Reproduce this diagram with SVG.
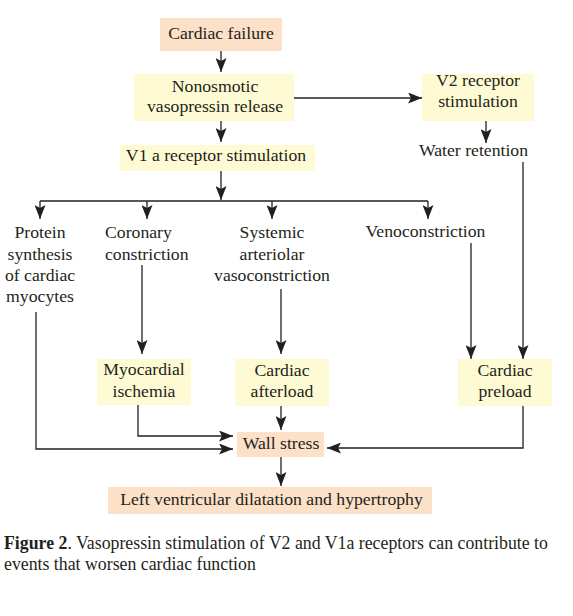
<svg xmlns="http://www.w3.org/2000/svg" width="573" height="616" viewBox="0 0 573 616">
<style>
text{font-family:"Liberation Serif","Times New Roman",serif;font-size:17.7px;fill:#231f20}
.c{text-anchor:middle}
.peach{fill:#fce0c8}
.yel{fill:#fefbd4}
.ln{fill:none;stroke:#231f20;stroke-width:1.3}
.cap{font-size:17.8px}
</style>
<defs>
<marker id="ah" markerUnits="userSpaceOnUse" viewBox="0 0 14 11" markerWidth="14" markerHeight="11" refX="14" refY="5.5" orient="auto">
<path d="M0,0 L14,5.5 L0,11 L3,5.5 z" fill="#231f20"/>
</marker>
</defs>
<rect width="573" height="616" fill="#ffffff"/>
<g id="connectors">
<path class="ln" d="M221,51 V72" marker-end="url(#ah)"/>
<path class="ln" d="M294,98 H422" marker-end="url(#ah)"/>
<path class="ln" d="M486,121 V143" marker-end="url(#ah)"/>
<path class="ln" d="M221,121 V142" marker-end="url(#ah)"/>
<path class="ln" d="M221,171 V200" marker-end="url(#ah)"/>
<path class="ln" d="M40,201 H428"/>
<path class="ln" d="M40,201 V219" marker-end="url(#ah)"/>
<path class="ln" d="M147,201 V219" marker-end="url(#ah)"/>
<path class="ln" d="M272,201 V219" marker-end="url(#ah)"/>
<path class="ln" d="M428,201 V219" marker-end="url(#ah)"/>
<path class="ln" d="M142,265 V354" marker-end="url(#ah)"/>
<path class="ln" d="M281,289 V354" marker-end="url(#ah)"/>
<path class="ln" d="M471,243 V359" marker-end="url(#ah)"/>
<path class="ln" d="M523,162 V359" marker-end="url(#ah)"/>
<path class="ln" d="M138,405 V436 H233" marker-end="url(#ah)"/>
<path class="ln" d="M36,312 V449 H233" marker-end="url(#ah)"/>
<path class="ln" d="M523,406 V448 H327" marker-end="url(#ah)"/>
<path class="ln" d="M281,406 V430" marker-end="url(#ah)"/>
<path class="ln" d="M281,457 V486" marker-end="url(#ah)"/>
</g>
<g id="cardiac-failure">
<rect class="peach" x="160" y="18" width="122" height="33"/>
<text class="c" x="221" y="39">Cardiac failure</text>
</g>
<g id="nonosmotic">
<rect class="yel" x="134" y="74" width="160" height="47"/>
<text class="c" x="215" y="92">Nonosmotic</text>
<text class="c" x="215" y="112">vasopressin release</text>
</g>
<g id="v2">
<rect class="yel" x="422" y="74" width="112" height="47"/>
<text class="c" x="478" y="86">V2 receptor</text>
<text class="c" x="478" y="107">stimulation</text>
</g>
<g id="water">
<text class="c" x="473.5" y="156">Water retention</text>
</g>
<g id="v1">
<rect class="yel" x="120" y="145" width="195" height="26"/>
<text class="c" x="216" y="161">V1 a receptor stimulation</text>
</g>
<g id="protein">
<text class="c" x="40" y="238">Protein</text>
<text class="c" x="40" y="260">synthesis</text>
<text class="c" x="40" y="281">of cardiac</text>
<text class="c" x="40" y="302">myocytes</text>
</g>
<g id="coronary">
<text x="105" y="238">Coronary</text>
<text x="105" y="260">constriction</text>
</g>
<g id="systemic">
<text class="c" x="272" y="238">Systemic</text>
<text class="c" x="272" y="260">arteriolar</text>
<text class="c" x="272" y="281">vasoconstriction</text>
</g>
<g id="veno">
<text class="c" x="425.5" y="237">Venoconstriction</text>
</g>
<g id="myocardial">
<rect class="yel" x="97" y="359" width="94" height="46"/>
<text class="c" x="144" y="375">Myocardial</text>
<text class="c" x="144" y="397">ischemia</text>
</g>
<g id="afterload">
<rect class="yel" x="235" y="359" width="94" height="47"/>
<text class="c" x="282" y="376">Cardiac</text>
<text class="c" x="282" y="397">afterload</text>
</g>
<g id="preload">
<rect class="yel" x="458" y="359" width="94" height="47"/>
<text class="c" x="505" y="376">Cardiac</text>
<text class="c" x="505" y="397">preload</text>
</g>
<g id="wall-stress">
<rect class="peach" x="237" y="432" width="87" height="25"/>
<text class="c" x="281" y="449">Wall stress</text>
</g>
<g id="lv">
<rect class="peach" x="108" y="487" width="324" height="27"/>
<text class="c" x="271.5" y="505">Left ventricular dilatation and hypertrophy</text>
</g>
<g id="caption">
<text class="cap" x="4" y="549"><tspan font-weight="bold">Figure 2</tspan>. Vasopressin stimulation of V2 and V1a receptors can contribute to</text>
<text class="cap" x="4" y="570">events that worsen cardiac function</text>
</g>
</svg>
